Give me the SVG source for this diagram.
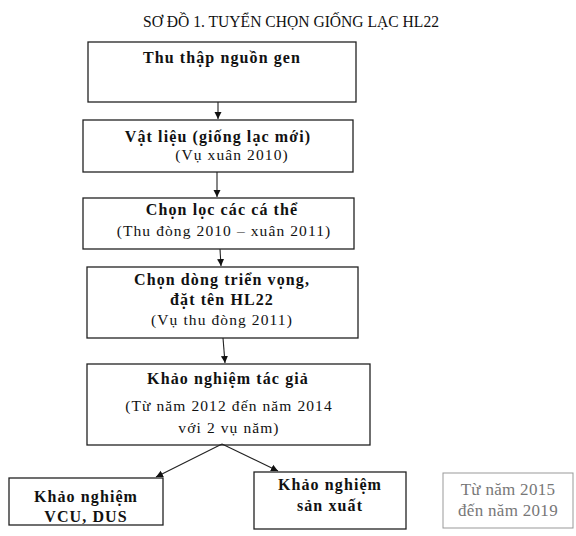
<svg xmlns="http://www.w3.org/2000/svg" width="576" height="536" viewBox="0 0 576 536">
<defs>
<style>
.box{fill:#fff;stroke:#222;stroke-width:1.3}
.gbox{fill:#fff;stroke:#999;stroke-width:1}
.b{font-family:"Liberation Serif","Times New Roman",serif;font-weight:bold;font-size:16px;letter-spacing:1.1px;fill:#111;text-anchor:middle}
.r{font-family:"Liberation Serif","Times New Roman",serif;font-size:15.5px;letter-spacing:1.1px;fill:#111;text-anchor:middle}
.g{font-family:"Liberation Serif","Times New Roman",serif;font-size:17px;letter-spacing:0.3px;fill:#777;text-anchor:middle}
.t{font-family:"Liberation Serif","Times New Roman",serif;font-size:17px;fill:#111;text-anchor:middle}
.c{fill:none;stroke:#222;stroke-width:1.1}
</style>
<marker id="ah" markerWidth="8" markerHeight="8" refX="7" refY="4" orient="auto" markerUnits="userSpaceOnUse">
<path d="M0,0.5 L7,4 L0,7.5 Z" fill="#111"/>
</marker>
</defs>
<rect width="576" height="536" fill="#fff"/>
<text class="t" x="291" y="27" textLength="296" lengthAdjust="spacingAndGlyphs">SƠ ĐỒ 1. TUYỂN CHỌN GIỐNG LẠC HL22</text>

<g id="n1">
<rect class="box" x="88" y="42" width="268" height="60"/>
<text class="b" x="222" y="63">Thu thập nguồn gen</text>
</g>
<g id="n2">
<rect class="box" x="83" y="120" width="270" height="52"/>
<text class="b" x="218" y="142">Vật liệu (giống lạc mới)</text>
<text class="r" x="232" y="160">(Vụ xuân 2010)</text>
</g>
<g id="n3">
<rect class="box" x="83" y="198" width="271" height="51"/>
<text class="b" x="222" y="215">Chọn lọc các cá thể</text>
<text class="r" x="224" y="236">(Thu đòng 2010 – xuân 2011)</text>
</g>
<g id="n4">
<rect class="box" x="87" y="267" width="271" height="71"/>
<text class="b" x="222" y="285">Chọn dòng triển vọng,</text>
<text class="b" x="222" y="305">đặt tên HL22</text>
<text class="r" x="222" y="325">(Vụ thu đòng 2011)</text>
</g>
<g id="n5">
<rect class="box" x="87" y="364" width="283" height="81"/>
<text class="b" x="228" y="384">Khảo nghiệm tác giả</text>
<text class="r" x="229" y="411">(Từ năm 2012 đến năm 2014</text>
<text class="r" x="229" y="433">với 2 vụ năm)</text>
</g>
<g id="n6">
<rect class="box" x="9" y="478" width="154" height="47"/>
<text class="b" x="86" y="502">Khảo nghiệm</text>
<text class="b" x="86" y="522">VCU, DUS</text>
</g>
<g id="n7">
<rect class="box" x="254" y="472" width="152" height="57"/>
<text class="b" x="330" y="490">Khảo nghiệm</text>
<text class="b" x="330" y="511">sản xuất</text>
</g>
<g id="n8">
<rect class="gbox" x="443" y="473" width="130" height="55"/>
<text class="g" x="508" y="495">Từ năm 2015</text>
<text class="g" x="508" y="516">đến năm 2019</text>
</g>

<g id="connectors">
<line class="c" x1="218" y1="102" x2="218" y2="119" marker-end="url(#ah)"/>
<line class="c" x1="217" y1="172" x2="217" y2="197" marker-end="url(#ah)"/>
<line class="c" x1="220" y1="249" x2="221" y2="266" marker-end="url(#ah)"/>
<line class="c" x1="223" y1="338" x2="225" y2="363" marker-end="url(#ah)"/>
<line class="c" x1="222" y1="444" x2="156" y2="477" marker-end="url(#ah)"/>
<line class="c" x1="222" y1="444" x2="278" y2="471" marker-end="url(#ah)"/>
</g>
</svg>
